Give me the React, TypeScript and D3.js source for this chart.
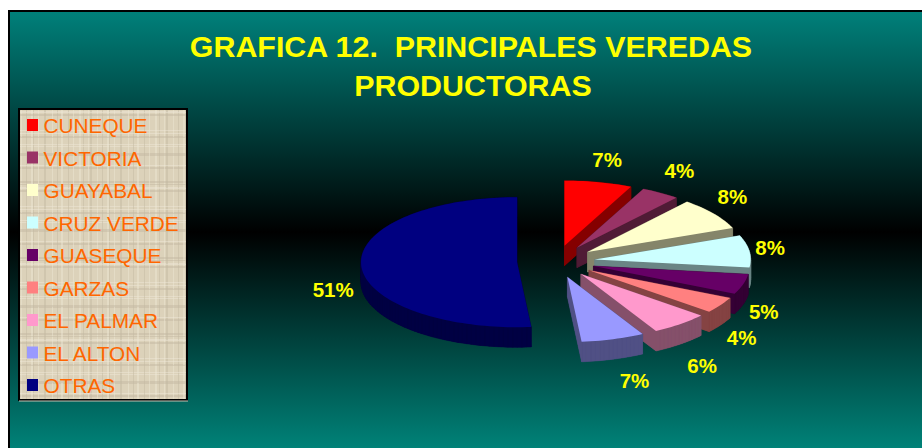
import React from "react";
import * as d3 from "d3";

const categories = ["CUNEQUE", "VICTORIA", "GUAYABAL", "CRUZ VERDE", "GUASEQUE", "GARZAS", "EL PALMAR", "EL ALTON", "OTRAS"];
const shares = [7, 4, 8, 8, 5, 4, 6, 6.55, 51.45];
const colors = ["#ff0000", "#993366", "#ffffcc", "#ccffff", "#660066", "#ff8080", "#ff99cc", "#9999ff", "#000080"];
const titleLines = ["GRAFICA 12.  PRINCIPALES VEREDAS", "PRODUCTORAS"];

const WIDTH = 922, HEIGHT = 448;
const CX = 556, CY = 261.5, RX = 156, RY = 65, DEPTH = 20, EXPLODE = 0.25;
const labelNudge: [number, number][] = [[0, -6.5], [-2, -8], [-13, -7], [-18, -1], [-17, 23], [-12, 24], [-3, 29], [10, 26], [11, 24]];
const threads = [3, 7, 12, 14, 21, 26, 31, 33, 38, 44, 52, 57, 61, 68, 73];

const pie = d3.pie<number>().sort(null).value((d) => d);
const arcs = pie(shares);
const line = d3.line<[number, number]>().curve(d3.curveLinearClosed);
const pct = d3.format(".0f");

function outline(start: number, end: number): [number, number][] {
  const pts: [number, number][] = [[0, 0]];
  const n = Math.max(4, Math.ceil((end - start) / 0.03));
  for (let i = 0; i <= n; i++) {
    const a = start + ((end - start) * i) / n;
    pts.push([RX * Math.sin(a), -RY * Math.cos(a)]);
  }
  return pts;
}

function Slice({ i }: { i: number }) {
  const a = arcs[i];
  const mid = (a.startAngle + a.endAngle) / 2;
  const ox = CX + EXPLODE * RX * Math.sin(mid);
  const oy = CY - EXPLODE * RY * Math.cos(mid);
  const top = outline(a.startAngle, a.endAngle);
  const c = d3.rgb(colors[i]);
  const wall = d3.rgb(c.r * 0.52, c.g * 0.52, c.b * 0.52).formatHex();
  const shift = (p: [number, number]): [number, number] => [p[0], p[1] + DEPTH];
  return (
    <g transform={`translate(${ox},${oy})`}>
      <path d={line(top.map(shift)) ?? ""} fill={wall} />
      {top.map((p, k) => {
        const q = top[(k + 1) % top.length];
        return <path key={k} d={line([p, q, shift(q), shift(p)]) ?? ""} fill={wall} stroke={wall} strokeWidth={0.5} />;
      })}
      <path d={line(top) ?? ""} fill={colors[i]} />
    </g>
  );
}

export default function App() {
  const legendY = d3.scalePoint<string>().domain(categories).range([125, 385]);
  return (
    <svg width={WIDTH} height={HEIGHT} viewBox={`0 0 ${WIDTH} ${HEIGHT}`} style={{ position: "absolute", left: 0, top: 0, display: "block" }}>
      <defs>
        <linearGradient id="bg" gradientUnits="userSpaceOnUse" x1="0" y1="12" x2="0" y2="448">
          <stop offset="0" stopColor="#00807a" />
          <stop offset="0.505" stopColor="#000000" />
          <stop offset="1" stopColor="#008278" />
        </linearGradient>
        <pattern id="linen" width="76" height="76" patternUnits="userSpaceOnUse">
          <rect width="76" height="76" fill="#dcd2ba" />
          {threads.map((t, i) => (
            <g key={t}>
              <rect x={t} y={0} width={i % 3 === 0 ? 2 : 1} height={76} fill={i % 2 ? "#c4b9a2" : "#ece5d2"} opacity={0.5} />
              <rect x={0} y={(t * 5) % 76} width={76} height={i % 4 === 0 ? 2 : 1} fill={i % 2 ? "#efe9d9" : "#c2b7a0"} opacity={0.45} />
            </g>
          ))}
        </pattern>
        <filter id="soft" x="0" y="0" width="1" height="1">
          <feGaussianBlur stdDeviation="0.6" />
        </filter>
      </defs>
      <rect width={WIDTH} height={HEIGHT} fill="#fff" />
      <rect x={8} y={10} width={WIDTH} height={HEIGHT} fill="#000" />
      <rect x={10} y={12} width={WIDTH} height={HEIGHT} fill="url(#bg)" />

      {titleLines.map((t, i) => (
        <text key={i} x={471 + i * 2} y={57 + i * 39} textAnchor="middle" fontFamily="Liberation Sans" fontWeight="bold" fontSize={30.4} fill="#ffff00" style={{ whiteSpace: "pre" }}>
          {t}
        </text>
      ))}

      <rect x={19} y={109} width={168} height={291} fill="url(#linen)" filter="url(#soft)" />
      <rect x={19} y={109} width={168} height={291} fill="none" stroke="#000" strokeWidth={2} />
      <line x1={19} x2={188} y1={401} y2={401} stroke="#c9c4b4" strokeWidth={1} />
      {categories.map((c, i) => {
        const y = legendY(c) ?? 0;
        return (
          <g key={c}>
            <rect x={27} y={y - 6} width={11} height={12} fill={colors[i]} />
            <text x={43.5} y={y + 8} fontFamily="Liberation Sans" fontSize={20.8} fill="#ff6600">{c}</text>
          </g>
        );
      })}

      <Slice i={8} />
      {d3.range(8).map((i) => <Slice key={i} i={i} />)}

      {arcs.map((a, i) => {
        const mid = (a.startAngle + a.endAngle) / 2;
        const x = CX + 1.5 * RX * Math.sin(mid) + labelNudge[i][0];
        const y = CY - 1.5 * RY * Math.cos(mid) + labelNudge[i][1];
        return (
          <text key={i} x={x} y={y + 7} textAnchor="middle" fontFamily="Liberation Sans" fontWeight="bold" fontSize={20.5} fill="#ffff00">
            {pct(shares[i])}%
          </text>
        );
      })}
    </svg>
  );
}
